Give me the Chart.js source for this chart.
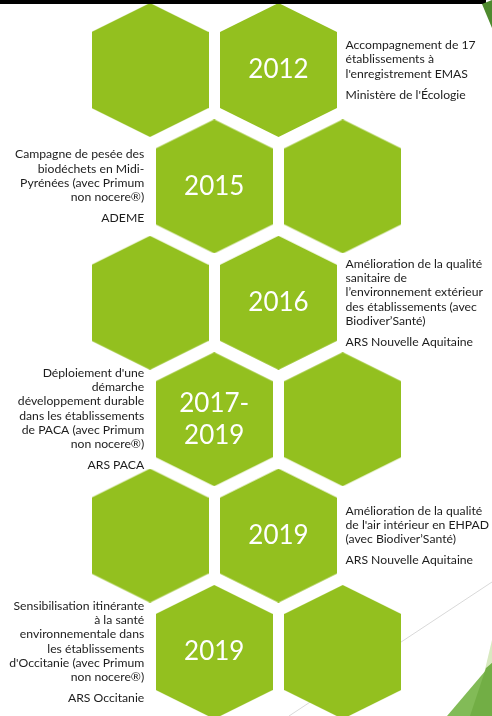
<!DOCTYPE html>
<html>
<head>
<meta charset="utf-8">
<script src="https://cdn.jsdelivr.net/npm/chart.js@4"></script>
<style>
  html, body { margin: 0; padding: 0; background: #fff; }
  #wrap { width: 492px; height: 716px; position: relative; }
</style>
</head>
<body>
<div id="wrap"><canvas id="timeline"></canvas></div>
<script>
// hex grid (column, row)
const hexX = [0, 1, 0.5, 1.5, 0, 1, 0.5, 1.5, 0, 1, 0.5, 1.5];
const hexY = [0, 0, 1, 1, 2, 2, 3, 3, 4, 4, 5, 5];

// timeline entries
const years = ['2012', '2015', '2016', '2017-\n2019', '2019', '2019'];
const yearX = [1, 0.5, 1, 0.5, 1, 0.5];
const yearY = [0, 1, 2, 3, 4, 5];
const textSide = ['right', 'left', 'right', 'left', 'right', 'left'];
const actions = [
  ['Accompagnement de 17', 'établissements à', "l'enregistrement EMAS"],
  ['Campagne de pesée des', 'biodéchets en Midi-', 'Pyrénées (avec Primum', 'non nocere®)'],
  ['Amélioration de la qualité', 'sanitaire de', 'l’environnement extérieur', 'des établissements (avec', 'Biodiver’Santé)'],
  ["Déploiement d'une", 'démarche', 'développement durable', 'dans les établissements', 'de PACA (avec Primum', 'non nocere®)'],
  ['Amélioration de la qualité', "de l'air intérieur en EHPAD", '(avec Biodiver’Santé)'],
  ['Sensibilisation itinérante', 'à la santé', 'environnementale dans', 'les établissements', "d'Occitanie (avec Primum", 'non nocere®)']
];
const funders = ["Ministère de l'Écologie", 'ADEME', 'ARS Nouvelle Aquitaine', 'ARS PACA', 'ARS Nouvelle Aquitaine', 'ARS Occitanie'];

const GREEN = '#93c01f';

// hexagon used as point style
function makeHex(w, h, shoulder, color) {
  const c = document.createElement('canvas');
  c.width = w; c.height = h;
  const g = c.getContext('2d');
  g.fillStyle = color;
  g.beginPath();
  g.moveTo(w / 2, 0);
  g.lineTo(w, shoulder);
  g.lineTo(w, h - shoulder);
  g.lineTo(w / 2, h);
  g.lineTo(0, h - shoulder);
  g.lineTo(0, shoulder);
  g.closePath();
  g.fill();
  return c;
}
const hexImg = makeHex(117, 134, 29, GREEN);

function tri(ctx, color, pts) {
  ctx.fillStyle = color;
  ctx.beginPath();
  pts.forEach((p, k) => k ? ctx.lineTo(p[0], p[1]) : ctx.moveTo(p[0], p[1]));
  ctx.closePath();
  ctx.fill();
}

const decor = {
  id: 'decor',
  beforeDatasetsDraw(chart) {
    const ctx = chart.ctx;
    ctx.save();
    ctx.strokeStyle = '#d9d9d9';
    ctx.lineWidth = 1;
    ctx.beginPath();
    ctx.moveTo(289, 716);
    ctx.lineTo(492, 582);
    ctx.stroke();
    // theme corner shapes
    tri(ctx, '#d8e9c0', [[474, 716], [492, 640], [492, 716]]);
    tri(ctx, '#82bb57', [[447, 716], [492, 663], [492, 716]]);
    tri(ctx, '#72ae45', [[470, 716], [486, 668], [492, 663], [492, 716]]);
    ctx.restore();
  },
  afterDatasetsDraw(chart) {
    const ctx = chart.ctx;
    const xs = chart.scales.x, ys = chart.scales.y;
    ctx.save();
    years.forEach((yr, i) => {
      const cx = xs.getPixelForValue(yearX[i]);
      const cy = ys.getPixelForValue(yearY[i]);
      // year inside hexagon
      ctx.fillStyle = '#ffffff';
      ctx.font = '26px Lato';
      ctx.textAlign = 'center';
      ctx.textBaseline = 'middle';
      const parts = yr.split('\n');
      parts.forEach((p, k) => {
        ctx.fillText(p, cx, cy + (k - (parts.length - 1) / 2) * 32);
      });
      // description next to it
      const lines = actions[i];
      const lh = 14.3, gap = 21;
      const blockH = (lines.length - 1) * lh + gap;
      let ty = cy - blockH / 2;
      const right = textSide[i] === 'right';
      const tx = right ? cx + 67 : cx - 70;
      ctx.fillStyle = '#1c1c1c';
      ctx.font = '12.2px Lato';
      ctx.textAlign = right ? 'left' : 'right';
      lines.forEach((l, k) => ctx.fillText(l, tx, ty + k * lh));
      ctx.fillText(funders[i], tx, ty + (lines.length - 1) * lh + gap);
    });
    // top bar and corner leaf
    ctx.fillStyle = '#000000';
    ctx.fillRect(0, 0, 486, 4);
    tri(ctx, '#4e8a2e', [[482, 4], [492, 0], [492, 28]]);
    ctx.restore();
  }
};

new Chart(document.getElementById('timeline'), {
  type: 'scatter',
  data: {
    datasets: [{
      data: hexX.map((x, i) => ({ x: x, y: hexY[i] })),
      pointStyle: hexImg,
      radius: 1,
      borderWidth: 0,
      clip: false
    }]
  },
  options: {
    responsive: true,
    maintainAspectRatio: false,
    animation: false,
    events: [],
    layout: { padding: 0, autoPadding: false },
    plugins: { legend: { display: false }, tooltip: { enabled: false } },
    scales: {
      x: { display: false, min: -150 / 128.5, max: (492 - 150) / 128.5 },
      y: { display: false, reverse: true, min: -70 / 116.4, max: (716 - 70) / 116.4 }
    }
  },
  plugins: [decor]
});
</script>
</body>
</html>
